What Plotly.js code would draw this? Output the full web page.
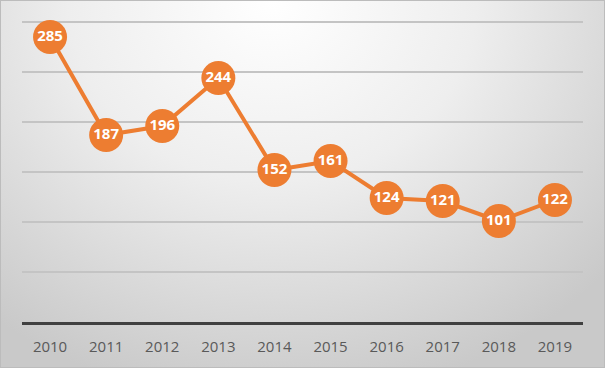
<!DOCTYPE html>
<html>
<head>
<meta charset="utf-8">
<script src="https://cdn.plot.ly/plotly-3.0.1.min.js"></script>
<style>
html,body{margin:0;padding:0;}
#wrap{width:605px;height:368px;box-sizing:border-box;border:1px solid #bcbcbc;
background:radial-gradient(ellipse 75% 110% at 45% 0%, #ffffff 0%, #eeeeee 45%, #c9c9c9 100%);}
#chart{width:603px;height:366px;}
</style>
</head>
<body>
<div id="wrap"><div id="chart"></div></div>
<script>
var years = ['2010','2011','2012','2013','2014','2015','2016','2017','2018','2019'];
var values = [285, 187, 196, 244, 152, 161, 124, 121, 101, 122];
var gridVals = [50, 100, 150, 200, 250, 300];

var trace = {
  x: years,
  y: values,
  type: 'scatter',
  mode: 'lines+markers+text',
  text: values.map(String),
  textposition: 'middle center',
  textfont: {family: 'Open Sans, Liberation Sans, sans-serif', size: 15, color: '#ffffff', weight: 700},
  line: {color: '#ED7D31', width: 4},
  marker: {color: '#ED7D31', size: 34, line: {width: 0}},
  hoverinfo: 'none',
  cliponaxis: false
};

var layout = {
  width: 603, height: 366,
  margin: {l: 21, r: 21, t: 11, b: 45, pad: 0},
  paper_bgcolor: 'rgba(0,0,0,0)',
  plot_bgcolor: 'rgba(0,0,0,0)',
  showlegend: false,
  xaxis: {
    type: 'category',
    range: [-0.5, 9.5],
    showgrid: false,
    showline: true, linecolor: '#404040', linewidth: 3,
    ticks: '', ticklabelstandoff: 9,
    tickfont: {family: 'Open Sans, Liberation Sans, sans-serif', size: 15, color: '#595959'},
    fixedrange: true
  },
  yaxis: {
    range: [0, 310],
    tickvals: gridVals,
    showgrid: true, gridcolor: '#c4c4c4', gridwidth: 2,
    zeroline: false,
    showticklabels: false,
    ticks: '',
    fixedrange: true
  }
};

Plotly.newPlot('chart', [trace], layout, {displayModeBar: false, staticPlot: true});
</script>
</body>
</html>
